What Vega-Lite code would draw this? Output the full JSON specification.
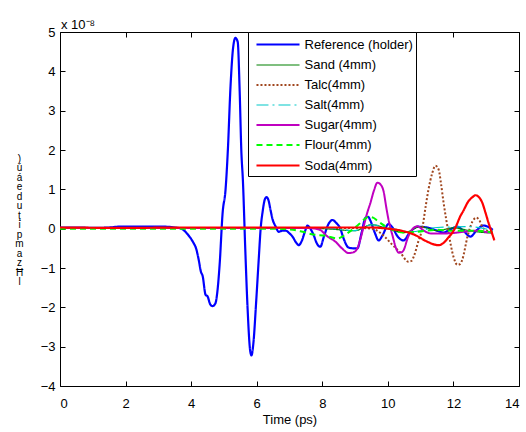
{
  "$schema": "https://vega.github.io/schema/vega-lite/v6.json",
  "width": 459,
  "height": 354,
  "autosize": {"type": "none"},
  "padding": {"left": 60, "top": 32, "right": 7, "bottom": 46},
  "background": "white",
  "title": {"text": "x 10⁻⁸", "anchor": "start", "frame": "group", "offset": 5, "dx": 1, "dy": 21, "fontSize": 13, "fontWeight": "normal", "font": "Liberation Sans", "color": "black", "baseline": "alphabetic"},
  "config": {
    "view": {"stroke": null},
    "axis": {"grid": false, "domainColor": "black", "tickColor": "black", "tickSize": -5, "labelFont": "Liberation Sans", "labelFontSize": 13, "labelColor": "black", "titleFont": "Liberation Sans", "titleFontSize": 13, "titleFontWeight": "normal", "titleColor": "black", "domainWidth": 1, "tickWidth": 1}
  },
  "datasets": {
    "curves": [
      {"series": "Reference (holder)", "t": 0, "v": 0.03}, {"series": "Reference (holder)", "t": 0.5, "v": 0.03}, {"series": "Reference (holder)", "t": 1.0, "v": 0.02}, {"series": "Reference (holder)", "t": 1.5, "v": 0.03}, {"series": "Reference (holder)", "t": 1.8, "v": 0.05}, {"series": "Reference (holder)", "t": 2.5, "v": 0.05}, {"series": "Reference (holder)", "t": 3.2, "v": 0.05}, {"series": "Reference (holder)", "t": 3.5, "v": 0.03}, {"series": "Reference (holder)", "t": 3.7, "v": 0.0}, {"series": "Reference (holder)", "t": 3.9, "v": -0.15}, {"series": "Reference (holder)", "t": 4.07, "v": -0.36}, {"series": "Reference (holder)", "t": 4.15, "v": -0.5}, {"series": "Reference (holder)", "t": 4.23, "v": -0.79}, {"series": "Reference (holder)", "t": 4.3, "v": -1.1}, {"series": "Reference (holder)", "t": 4.35, "v": -1.2}, {"series": "Reference (holder)", "t": 4.44, "v": -1.68}, {"series": "Reference (holder)", "t": 4.5, "v": -1.72}, {"series": "Reference (holder)", "t": 4.58, "v": -1.92}, {"series": "Reference (holder)", "t": 4.65, "v": -1.97}, {"series": "Reference (holder)", "t": 4.74, "v": -1.9}, {"series": "Reference (holder)", "t": 4.8, "v": -1.6}, {"series": "Reference (holder)", "t": 4.87, "v": -0.9}, {"series": "Reference (holder)", "t": 4.96, "v": 0.4}, {"series": "Reference (holder)", "t": 5.05, "v": 1.0}, {"series": "Reference (holder)", "t": 5.12, "v": 2.0}, {"series": "Reference (holder)", "t": 5.2, "v": 3.6}, {"series": "Reference (holder)", "t": 5.28, "v": 4.6}, {"series": "Reference (holder)", "t": 5.35, "v": 4.85}, {"series": "Reference (holder)", "t": 5.42, "v": 4.75}, {"series": "Reference (holder)", "t": 5.48, "v": 3.5}, {"series": "Reference (holder)", "t": 5.53, "v": 2.0}, {"series": "Reference (holder)", "t": 5.58, "v": 1.2}, {"series": "Reference (holder)", "t": 5.65, "v": -0.5}, {"series": "Reference (holder)", "t": 5.72, "v": -2.0}, {"series": "Reference (holder)", "t": 5.8, "v": -3.1}, {"series": "Reference (holder)", "t": 5.84, "v": -3.22}, {"series": "Reference (holder)", "t": 5.9, "v": -2.9}, {"series": "Reference (holder)", "t": 5.98, "v": -1.9}, {"series": "Reference (holder)", "t": 6.06, "v": -0.8}, {"series": "Reference (holder)", "t": 6.12, "v": 0.0}, {"series": "Reference (holder)", "t": 6.18, "v": 0.43}, {"series": "Reference (holder)", "t": 6.25, "v": 0.75}, {"series": "Reference (holder)", "t": 6.3, "v": 0.8}, {"series": "Reference (holder)", "t": 6.36, "v": 0.72}, {"series": "Reference (holder)", "t": 6.42, "v": 0.48}, {"series": "Reference (holder)", "t": 6.48, "v": 0.25}, {"series": "Reference (holder)", "t": 6.58, "v": 0.05}, {"series": "Reference (holder)", "t": 6.67, "v": -0.08}, {"series": "Reference (holder)", "t": 6.78, "v": -0.05}, {"series": "Reference (holder)", "t": 6.88, "v": -0.05}, {"series": "Reference (holder)", "t": 7.0, "v": -0.12}, {"series": "Reference (holder)", "t": 7.09, "v": -0.2}, {"series": "Reference (holder)", "t": 7.2, "v": -0.35}, {"series": "Reference (holder)", "t": 7.28, "v": -0.42}, {"series": "Reference (holder)", "t": 7.38, "v": -0.3}, {"series": "Reference (holder)", "t": 7.48, "v": -0.05}, {"series": "Reference (holder)", "t": 7.55, "v": 0.08}, {"series": "Reference (holder)", "t": 7.62, "v": 0.02}, {"series": "Reference (holder)", "t": 7.73, "v": -0.15}, {"series": "Reference (holder)", "t": 7.85, "v": -0.4}, {"series": "Reference (holder)", "t": 7.94, "v": -0.46}, {"series": "Reference (holder)", "t": 8.05, "v": -0.2}, {"series": "Reference (holder)", "t": 8.19, "v": 0.12}, {"series": "Reference (holder)", "t": 8.31, "v": 0.22}, {"series": "Reference (holder)", "t": 8.42, "v": 0.15}, {"series": "Reference (holder)", "t": 8.55, "v": 0.0}, {"series": "Reference (holder)", "t": 8.65, "v": -0.25}, {"series": "Reference (holder)", "t": 8.8, "v": -0.48}, {"series": "Reference (holder)", "t": 8.95, "v": -0.5}, {"series": "Reference (holder)", "t": 9.07, "v": -0.5}, {"series": "Reference (holder)", "t": 9.2, "v": -0.1}, {"series": "Reference (holder)", "t": 9.32, "v": 0.28}, {"series": "Reference (holder)", "t": 9.4, "v": 0.3}, {"series": "Reference (holder)", "t": 9.47, "v": 0.2}, {"series": "Reference (holder)", "t": 9.6, "v": -0.1}, {"series": "Reference (holder)", "t": 9.72, "v": -0.3}, {"series": "Reference (holder)", "t": 9.85, "v": -0.15}, {"series": "Reference (holder)", "t": 10.02, "v": 0.12}, {"series": "Reference (holder)", "t": 10.14, "v": 0.03}, {"series": "Reference (holder)", "t": 10.3, "v": -0.2}, {"series": "Reference (holder)", "t": 10.48, "v": -0.3}, {"series": "Reference (holder)", "t": 10.65, "v": -0.12}, {"series": "Reference (holder)", "t": 10.9, "v": 0.05}, {"series": "Reference (holder)", "t": 11.2, "v": 0.03}, {"series": "Reference (holder)", "t": 11.5, "v": -0.05}, {"series": "Reference (holder)", "t": 11.7, "v": -0.1}, {"series": "Reference (holder)", "t": 11.9, "v": -0.02}, {"series": "Reference (holder)", "t": 12.12, "v": 0.05}, {"series": "Reference (holder)", "t": 12.3, "v": -0.05}, {"series": "Reference (holder)", "t": 12.52, "v": -0.2}, {"series": "Reference (holder)", "t": 12.7, "v": -0.05}, {"series": "Reference (holder)", "t": 12.92, "v": 0.08}, {"series": "Reference (holder)", "t": 13.05, "v": 0.05}, {"series": "Reference (holder)", "t": 13.2, "v": -0.03},

      {"series": "Sand (4mm)", "t": 0, "v": 0.02}, {"series": "Sand (4mm)", "t": 3, "v": 0.02}, {"series": "Sand (4mm)", "t": 6, "v": 0.02}, {"series": "Sand (4mm)", "t": 8, "v": 0.0}, {"series": "Sand (4mm)", "t": 9, "v": -0.05}, {"series": "Sand (4mm)", "t": 9.5, "v": 0.1}, {"series": "Sand (4mm)", "t": 10, "v": 0.0}, {"series": "Sand (4mm)", "t": 10.5, "v": -0.1}, {"series": "Sand (4mm)", "t": 11, "v": 0.05}, {"series": "Sand (4mm)", "t": 11.5, "v": -0.05}, {"series": "Sand (4mm)", "t": 12, "v": 0.02}, {"series": "Sand (4mm)", "t": 12.5, "v": -0.05}, {"series": "Sand (4mm)", "t": 13, "v": -0.1}, {"series": "Sand (4mm)", "t": 13.2, "v": -0.1},

      {"series": "Talc(4mm)", "t": 0, "v": 0.02}, {"series": "Talc(4mm)", "t": 9.0, "v": 0.02}, {"series": "Talc(4mm)", "t": 9.5, "v": 0.0}, {"series": "Talc(4mm)", "t": 9.9, "v": -0.2}, {"series": "Talc(4mm)", "t": 10.08, "v": -0.36}, {"series": "Talc(4mm)", "t": 10.38, "v": -0.61}, {"series": "Talc(4mm)", "t": 10.63, "v": -0.84}, {"series": "Talc(4mm)", "t": 10.72, "v": -0.82}, {"series": "Talc(4mm)", "t": 10.79, "v": -0.71}, {"series": "Talc(4mm)", "t": 10.92, "v": -0.35}, {"series": "Talc(4mm)", "t": 11.06, "v": 0.05}, {"series": "Talc(4mm)", "t": 11.15, "v": 0.55}, {"series": "Talc(4mm)", "t": 11.24, "v": 1.0}, {"series": "Talc(4mm)", "t": 11.35, "v": 1.4}, {"series": "Talc(4mm)", "t": 11.45, "v": 1.6}, {"series": "Talc(4mm)", "t": 11.55, "v": 1.5}, {"series": "Talc(4mm)", "t": 11.62, "v": 1.15}, {"series": "Talc(4mm)", "t": 11.7, "v": 0.66}, {"series": "Talc(4mm)", "t": 11.85, "v": -0.1}, {"series": "Talc(4mm)", "t": 12.0, "v": -0.71}, {"series": "Talc(4mm)", "t": 12.12, "v": -0.92}, {"series": "Talc(4mm)", "t": 12.2, "v": -0.9}, {"series": "Talc(4mm)", "t": 12.27, "v": -0.79}, {"series": "Talc(4mm)", "t": 12.43, "v": -0.2}, {"series": "Talc(4mm)", "t": 12.58, "v": 0.18}, {"series": "Talc(4mm)", "t": 12.7, "v": 0.28}, {"series": "Talc(4mm)", "t": 12.8, "v": 0.2}, {"series": "Talc(4mm)", "t": 12.88, "v": 0.05}, {"series": "Talc(4mm)", "t": 13.07, "v": -0.07}, {"series": "Talc(4mm)", "t": 13.2, "v": -0.1},

      {"series": "Salt(4mm)", "t": 0, "v": 0.03}, {"series": "Salt(4mm)", "t": 5, "v": 0.03}, {"series": "Salt(4mm)", "t": 8, "v": 0.02}, {"series": "Salt(4mm)", "t": 9, "v": -0.05}, {"series": "Salt(4mm)", "t": 9.5, "v": 0.1}, {"series": "Salt(4mm)", "t": 10, "v": 0.03}, {"series": "Salt(4mm)", "t": 10.7, "v": -0.08}, {"series": "Salt(4mm)", "t": 11.5, "v": 0.03}, {"series": "Salt(4mm)", "t": 12.5, "v": 0.05}, {"series": "Salt(4mm)", "t": 13.2, "v": -0.05},

      {"series": "Sugar(4mm)", "t": 0, "v": 0.02}, {"series": "Sugar(4mm)", "t": 7.5, "v": 0.02}, {"series": "Sugar(4mm)", "t": 7.9, "v": -0.02}, {"series": "Sugar(4mm)", "t": 8.16, "v": -0.2}, {"series": "Sugar(4mm)", "t": 8.4, "v": -0.33}, {"series": "Sugar(4mm)", "t": 8.6, "v": -0.5}, {"series": "Sugar(4mm)", "t": 8.8, "v": -0.62}, {"series": "Sugar(4mm)", "t": 8.95, "v": -0.6}, {"series": "Sugar(4mm)", "t": 9.07, "v": -0.5}, {"series": "Sugar(4mm)", "t": 9.15, "v": -0.3}, {"series": "Sugar(4mm)", "t": 9.26, "v": 0.05}, {"series": "Sugar(4mm)", "t": 9.37, "v": 0.4}, {"series": "Sugar(4mm)", "t": 9.47, "v": 0.66}, {"series": "Sugar(4mm)", "t": 9.58, "v": 0.98}, {"series": "Sugar(4mm)", "t": 9.68, "v": 1.17}, {"series": "Sugar(4mm)", "t": 9.78, "v": 1.12}, {"series": "Sugar(4mm)", "t": 9.87, "v": 0.95}, {"series": "Sugar(4mm)", "t": 9.95, "v": 0.55}, {"series": "Sugar(4mm)", "t": 10.02, "v": 0.23}, {"series": "Sugar(4mm)", "t": 10.15, "v": -0.2}, {"series": "Sugar(4mm)", "t": 10.25, "v": -0.5}, {"series": "Sugar(4mm)", "t": 10.33, "v": -0.61}, {"series": "Sugar(4mm)", "t": 10.42, "v": -0.6}, {"series": "Sugar(4mm)", "t": 10.48, "v": -0.55}, {"series": "Sugar(4mm)", "t": 10.6, "v": -0.25}, {"series": "Sugar(4mm)", "t": 10.69, "v": -0.08}, {"series": "Sugar(4mm)", "t": 10.9, "v": 0.06}, {"series": "Sugar(4mm)", "t": 11.1, "v": -0.05}, {"series": "Sugar(4mm)", "t": 11.3, "v": -0.12}, {"series": "Sugar(4mm)", "t": 11.8, "v": -0.12}, {"series": "Sugar(4mm)", "t": 12.3, "v": -0.08}, {"series": "Sugar(4mm)", "t": 12.8, "v": -0.05}, {"series": "Sugar(4mm)", "t": 13.1, "v": -0.1}, {"series": "Sugar(4mm)", "t": 13.2, "v": -0.1},

      {"series": "Flour(4mm)", "t": 0, "v": 0.0}, {"series": "Flour(4mm)", "t": 6.5, "v": 0.0}, {"series": "Flour(4mm)", "t": 7.03, "v": -0.02}, {"series": "Flour(4mm)", "t": 7.4, "v": -0.08}, {"series": "Flour(4mm)", "t": 7.73, "v": -0.15}, {"series": "Flour(4mm)", "t": 8.1, "v": -0.18}, {"series": "Flour(4mm)", "t": 8.46, "v": -0.25}, {"series": "Flour(4mm)", "t": 8.62, "v": -0.2}, {"series": "Flour(4mm)", "t": 8.76, "v": -0.12}, {"series": "Flour(4mm)", "t": 9.1, "v": 0.1}, {"series": "Flour(4mm)", "t": 9.3, "v": 0.25}, {"series": "Flour(4mm)", "t": 9.41, "v": 0.3}, {"series": "Flour(4mm)", "t": 9.55, "v": 0.28}, {"series": "Flour(4mm)", "t": 9.68, "v": 0.2}, {"series": "Flour(4mm)", "t": 9.99, "v": 0.03}, {"series": "Flour(4mm)", "t": 10.48, "v": -0.1}, {"series": "Flour(4mm)", "t": 11.0, "v": -0.07}, {"series": "Flour(4mm)", "t": 11.5, "v": -0.03}, {"series": "Flour(4mm)", "t": 12.0, "v": -0.05}, {"series": "Flour(4mm)", "t": 12.6, "v": -0.05}, {"series": "Flour(4mm)", "t": 13.2, "v": -0.1},

      {"series": "Soda(4mm)", "t": 0, "v": 0.03}, {"series": "Soda(4mm)", "t": 2, "v": 0.02}, {"series": "Soda(4mm)", "t": 4, "v": 0.03}, {"series": "Soda(4mm)", "t": 6, "v": 0.03}, {"series": "Soda(4mm)", "t": 8, "v": 0.03}, {"series": "Soda(4mm)", "t": 9.5, "v": 0.03}, {"series": "Soda(4mm)", "t": 10.0, "v": 0.0}, {"series": "Soda(4mm)", "t": 10.4, "v": -0.05}, {"series": "Soda(4mm)", "t": 10.8, "v": -0.15}, {"series": "Soda(4mm)", "t": 11.2, "v": -0.33}, {"series": "Soda(4mm)", "t": 11.4, "v": -0.4}, {"series": "Soda(4mm)", "t": 11.55, "v": -0.42}, {"series": "Soda(4mm)", "t": 11.7, "v": -0.36}, {"series": "Soda(4mm)", "t": 11.85, "v": -0.22}, {"series": "Soda(4mm)", "t": 11.97, "v": -0.1}, {"series": "Soda(4mm)", "t": 12.1, "v": 0.1}, {"series": "Soda(4mm)", "t": 12.2, "v": 0.3}, {"series": "Soda(4mm)", "t": 12.3, "v": 0.45}, {"series": "Soda(4mm)", "t": 12.46, "v": 0.7}, {"series": "Soda(4mm)", "t": 12.58, "v": 0.8}, {"series": "Soda(4mm)", "t": 12.67, "v": 0.85}, {"series": "Soda(4mm)", "t": 12.78, "v": 0.8}, {"series": "Soda(4mm)", "t": 12.88, "v": 0.66}, {"series": "Soda(4mm)", "t": 12.98, "v": 0.4}, {"series": "Soda(4mm)", "t": 13.07, "v": 0.15}, {"series": "Soda(4mm)", "t": 13.15, "v": -0.05}, {"series": "Soda(4mm)", "t": 13.25, "v": -0.3}
    ]
  },
  "data": {"name": "curves"},
  "layer": [
    {
      "mark": {"type": "line", "interpolate": "monotone", "strokeJoin": "round"},
      "encoding": {
        "x": {"field": "t", "type": "quantitative", "scale": {"domain": [0, 14], "nice": false, "zero": false}, "axis": {"values": [0, 2, 4, 6, 8, 10, 12, 14], "title": "Time (ps)", "labelPadding": 16, "titlePadding": 3}},
        "y": {"field": "v", "type": "quantitative", "scale": {"domain": [-4, 5], "nice": false, "zero": false}, "axis": {"values": [-4, -3, -2, -1, 0, 1, 2, 3, 4, 5], "labelPadding": 10, "title": [")", "ú", "á", "e", "d", "u", "ţ", "i", "p", "m", "a", "z", "Ħ", "l"], "titleAngle": 0, "titleAlign": "center", "titleBaseline": "top", "titleX": -41, "titleY": 121, "titleLineHeight": 9.5, "titleFontSize": 10}},
        "color": {"field": "series", "type": "nominal", "sort": null, "title": null,
          "scale": {"domain": ["Reference (holder)", "Sand (4mm)", "Talc(4mm)", "Salt(4mm)", "Sugar(4mm)", "Flour(4mm)", "Soda(4mm)"], "range": ["#0000ff", "#008000", "#a0461e", "#00c8c8", "#c000c0", "#00ff00", "#ff0000"]},
          "legend": {"orient": "none", "legendX": 188, "legendY": 0, "strokeColor": "black", "fillColor": "white", "padding": 3, "symbolType": "M-2.69,0H2.69", "symbolSize": 256, "symbolOffset": 17.5, "symbolStrokeWidth": 2, "labelFont": "Liberation Sans", "labelFontSize": 13, "labelColor": "black", "labelOffset": 17, "rowPadding": 4, "labelLimit": 200}},
        "strokeDash": {"field": "series", "type": "nominal", "sort": null, "title": null,
          "scale": {"domain": ["Reference (holder)", "Sand (4mm)", "Talc(4mm)", "Salt(4mm)", "Sugar(4mm)", "Flour(4mm)", "Soda(4mm)"], "range": [[1, 0], [1, 0], [2, 2], [12, 4, 2, 4], [1, 0], [6, 4], [1, 0]]}},
        "strokeWidth": {"field": "series", "type": "nominal", "sort": null, "title": null,
          "scale": {"type": "ordinal", "domain": ["Reference (holder)", "Sand (4mm)", "Talc(4mm)", "Salt(4mm)", "Sugar(4mm)", "Flour(4mm)", "Soda(4mm)"], "range": [2.2, 1.2, 2, 1.2, 2, 2, 2.2]}}
      }
    },
    {
      "mark": {"type": "line", "opacity": 0},
      "encoding": {
        "x": {"field": "t", "type": "quantitative", "axis": {"orient": "top", "values": [0, 2, 4, 6, 8, 10, 12, 14], "labels": false, "title": null}},
        "y": {"field": "v", "type": "quantitative", "axis": {"orient": "right", "values": [-4, -3, -2, -1, 0, 1, 2, 3, 4, 5], "labels": false, "title": null}}
      }
    }
  ],
  "resolve": {"axis": {"x": "independent", "y": "independent"}}
}
